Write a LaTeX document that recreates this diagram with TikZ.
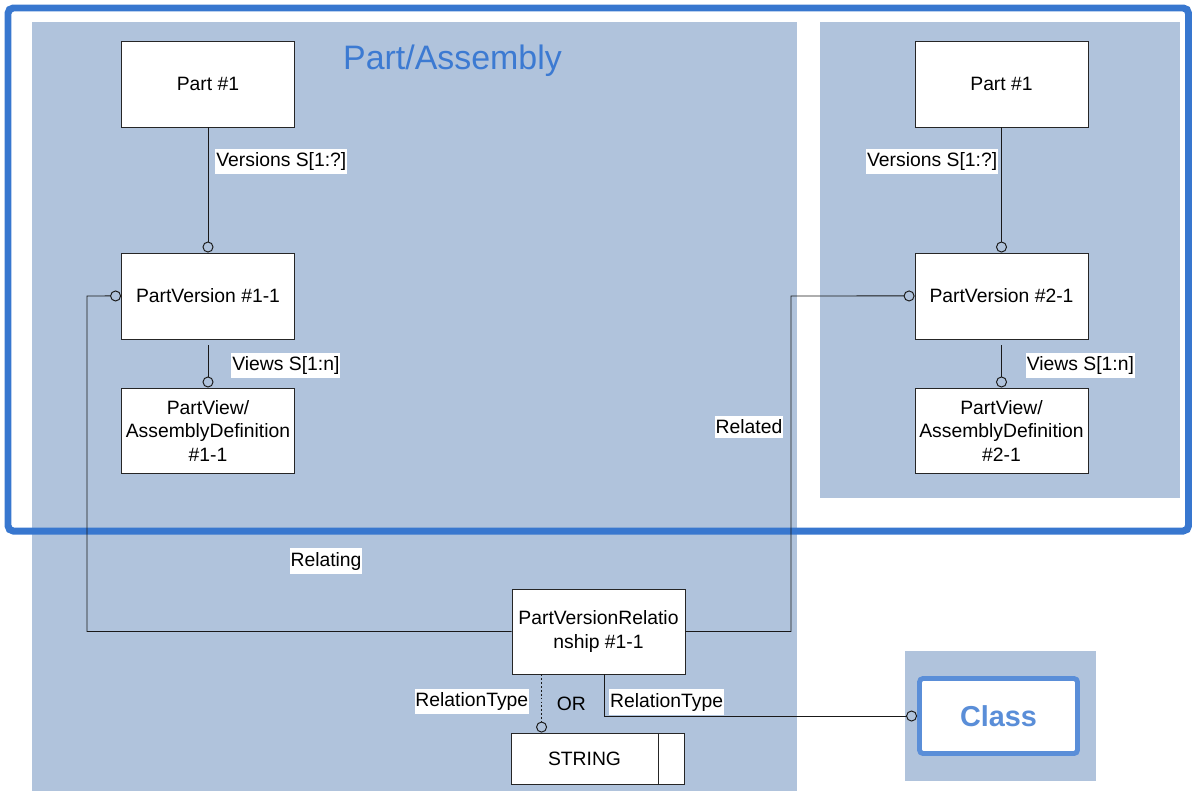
\documentclass[tikz,border=0pt]{standalone}
\usepackage{fontspec}
\setmainfont{Liberation Sans}
\usetikzlibrary{positioning,arrows.meta}

\definecolor{panelblue}{HTML}{B0C3DC}
\definecolor{frameblue}{HTML}{3877CF}
\definecolor{titleblue}{HTML}{3C7AD2}
\definecolor{classblue}{HTML}{5A8ED8}

\begin{document}
\begin{tikzpicture}[x=0.02cm, y=-0.02cm]
        \tikzstyle{every node} = [font=\fontsize{11}{13.3}\selectfont]
        \tikzstyle{entity} = [draw=black!85, line width=0.5pt, fill=white, align=center, inner sep=0pt,
            minimum width=3.46cm, minimum height=1.72cm]
        \tikzstyle{lbl} = [fill=white, inner xsep=0.5pt, inner ysep=2pt]
        \tikzstyle{rel} = [draw=black!90, line width=0.55pt, -{Circle[open, length=0.22cm, width=0.22cm]}]

        \useasboundingbox (0,0) rectangle (1192,791);

        % shaded panels and frame
        \fill[panelblue] (32,22) rectangle (797,791);
        \fill[panelblue] (820,22) rectangle (1180,498);
        \fill[panelblue] (905,651) rectangle (1096,781);
        \draw[frameblue, line width=0.14cm, rounded corners=3pt] (8,8) rectangle (1188.5,531);
        \node[text=titleblue, font=\fontsize{19.3}{23}\selectfont, anchor=base](title) at (452.5,69){Part/Assembly};

        % left column
        \node[entity](part1) at (208,84){Part \#1};
        \node[entity, below of=part1, node distance=4.24cm](pv1){PartVersion \#1-1};
        \node[entity, below of=pv1, node distance=2.7cm](view1){PartView/\\AssemblyDefinition\\\#1-1};

        % right column
        \node[entity](part2) at (1001.5,84){Part \#1};
        \node[entity, below of=part2, node distance=4.24cm](pv2){PartVersion \#2-1};
        \node[entity, below of=pv2, node distance=2.7cm](view2){PartView/\\AssemblyDefinition\\\#2-1};

        % relationship and its types
        \node[entity, minimum height=1.70cm](pvr) at (598.5,631.5){PartVersionRelatio\\nship \#1-1};
        \node[entity, minimum width=2.94cm, minimum height=1.02cm](str) at (584.5,758.5){STRING};
        \node[entity, minimum width=0.52cm, minimum height=1.02cm, right=-0.5pt of str](strend){};
        \node[draw=classblue, line width=2.8pt, rounded corners=2pt, fill=white, minimum width=3.16cm,
            minimum height=1.5cm, text=classblue, font=\bfseries\fontsize{16.4}{20}\selectfont](cls) at (998.5,716){Class};

        \path (part1) edge[rel] node[lbl, pos=0.27, right=0.14cm]{Versions S[1:?]} (pv1);
        \path (pv1) edge[rel, shorten <=0.12cm] node[lbl, pos=0.55, right=0.46cm]{Views S[1:n]} (view1);
        \path (part2) edge[rel] node[lbl, pos=0.27, left=0.06cm]{Versions S[1:?]} (pv2);
        \path (pv2) edge[rel, shorten <=0.12cm] node[lbl, pos=0.55, right=0.48cm]{Views S[1:n]} (view2);

        \coordinate (relating) at (87,296);
        \draw[rel] (pvr.west) -| (relating) -- (pv1.west);
        \node[lbl](relatinglbl) at (326,561){Relating};

        \coordinate (related) at (791,296);
        \draw[rel] (pvr.east) -| (related) -- (pv2.west);
        \node[lbl](relatedlbl) at (749,427){Related};

        \draw[rel, dash pattern=on 1pt off 1.2pt] ([xshift=0.6cm]pvr.south west) -- ([xshift=0.6cm]pvr.south west |- str.north)
            node[lbl, pos=0.47, left=0.24cm]{RelationType}
            node[pos=0.5, right=0.18cm]{OR};
        \draw[rel] ([xshift=0.11cm]pvr.south) |- node[lbl, pos=0.6, above=0.02cm]{RelationType} (cls.west);
    \end{tikzpicture}
\end{document}
